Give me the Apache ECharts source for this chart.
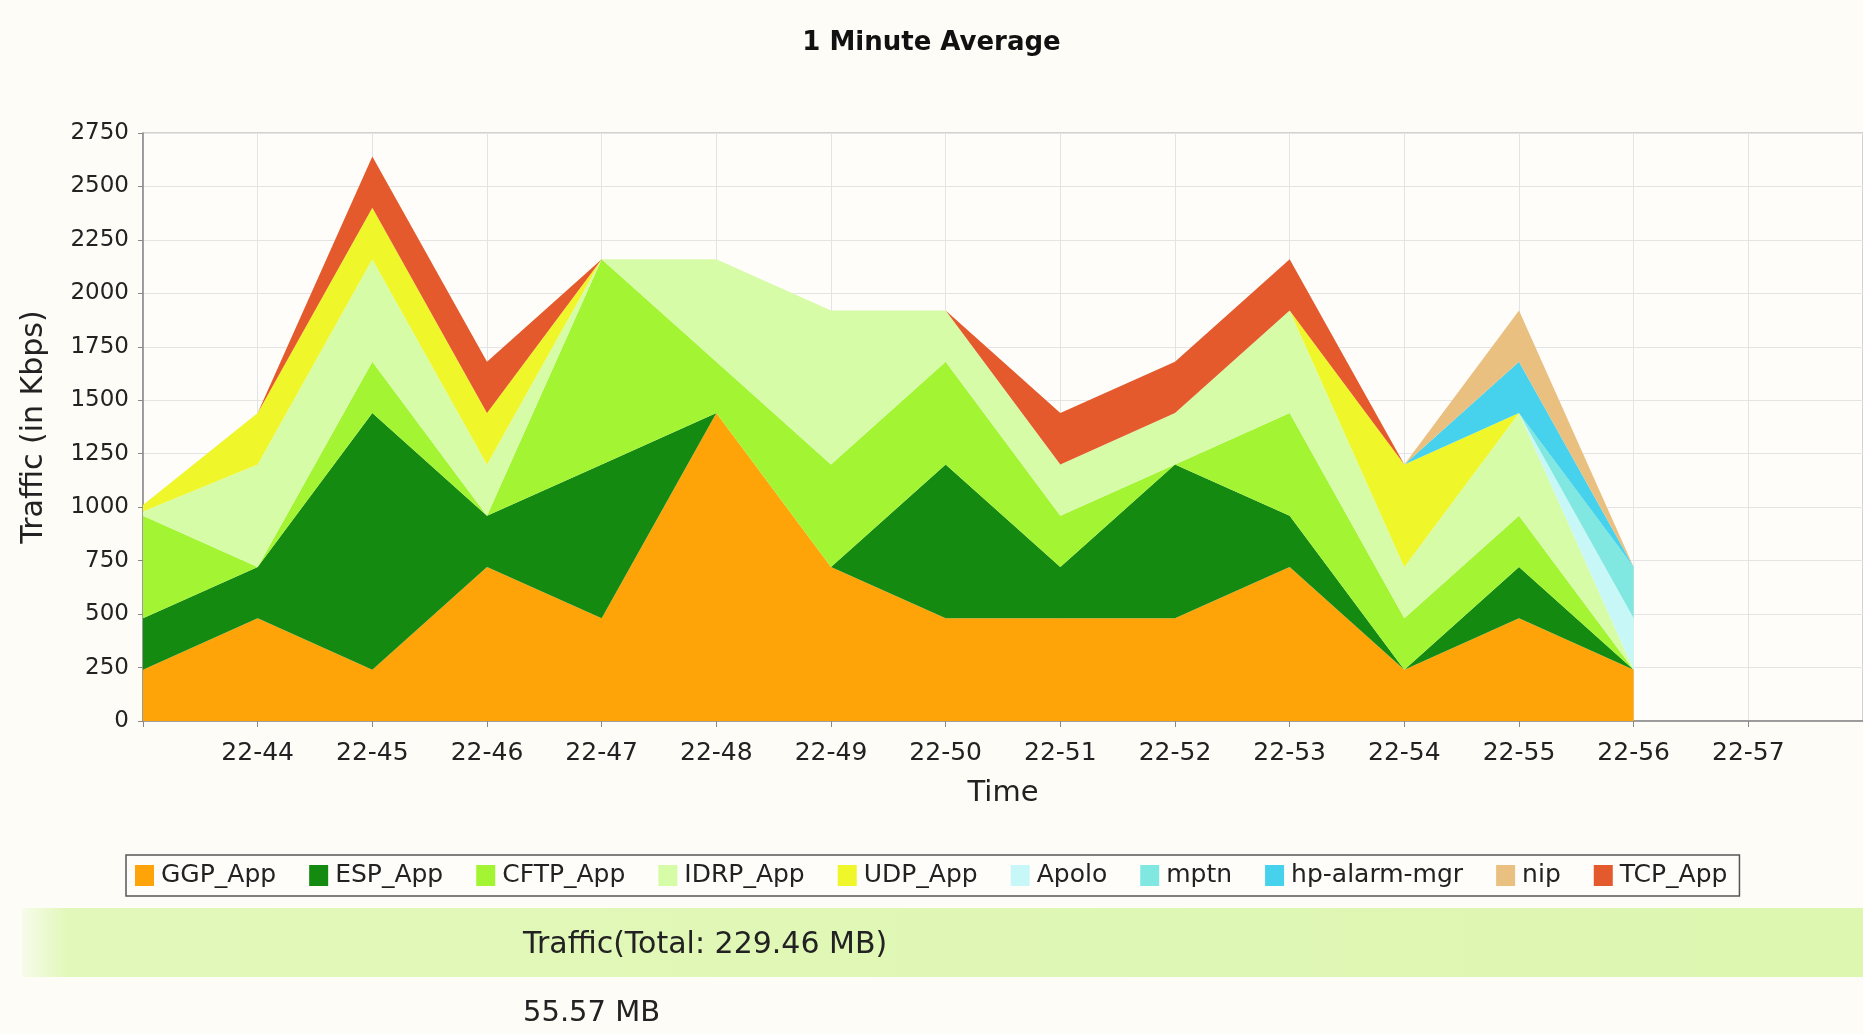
<!DOCTYPE html>
<html lang="en" style="height: 100%">

<head>
    <meta charset="utf-8">
    <script type="text/javascript" src="https://cdn.jsdelivr.net/npm/echarts@6/dist/echarts.min.js"></script>
</head>

<body style="height: 100%; margin: 0; background: #fdfcf7">
    <div id="container" style="width: 1863px; height: 1034px"></div>
    <script type="text/javascript">
        // time buckets on the x axis (first and last have no label)
        var categories = ['22-43', '22-44', '22-45', '22-46', '22-47', '22-48', '22-49', '22-50',
            '22-51', '22-52', '22-53', '22-54', '22-55', '22-56', '22-57', '22-58'];
        var yTicks = { min: 0, max: 2750, step: 250 };

        // per-application traffic in Kbps, stacked bottom to top
        var ggpApp = [240, 480, 240, 720, 480, 1440, 720, 480, 480, 480, 720, 240, 480, 240];
        var espApp = [240, 240, 1200, 240, 720, 0, 0, 720, 240, 720, 240, 0, 240, 0];
        var cftpApp = [480, 0, 240, 0, 960, 240, 480, 480, 240, 0, 480, 240, 240, 0];
        var idrpApp = [20, 480, 480, 240, 0, 480, 720, 240, 240, 240, 480, 240, 480, 0];
        var udpApp = [30, 240, 240, 240, 0, 0, 0, 0, 0, 0, 0, 480, 0, 0];
        var apolo = [0, 0, 0, 0, 0, 0, 0, 0, 0, 0, 0, 0, 0, 240];
        var mptn = [0, 0, 0, 0, 0, 0, 0, 0, 0, 0, 0, 0, 0, 240];
        var hpAlarmMgr = [0, 0, 0, 0, 0, 0, 0, 0, 0, 0, 0, 0, 240, 0];
        var nip = [0, 0, 0, 0, 0, 0, 0, 0, 0, 0, 0, 0, 240, 0];
        var tcpApp = [0, 0, 240, 240, 0, 0, 0, 0, 240, 240, 240, 0, 0, 0];

        var seriesNames = ['GGP_App', 'ESP_App', 'CFTP_App', 'IDRP_App', 'UDP_App', 'Apolo', 'mptn', 'hp-alarm-mgr', 'nip', 'TCP_App'];
        var seriesData = [ggpApp, espApp, cftpApp, idrpApp, udpApp, apolo, mptn, hpAlarmMgr, nip, tcpApp];
        var colors = ['#ffa408', '#148b10', '#a3f534', '#d7fca8', '#eff62a', '#c8f7f7', '#80e8e0', '#46d2ec', '#eac080', '#e45a2c'];

        var titleText = '1 Minute Average';
        var totalText = 'Traffic(Total: 229.46 MB)';
        var subText = '55.57 MB';

        var font = '"DejaVu Sans", sans-serif';
        var dom = document.getElementById('container');
        var chart = echarts.init(dom, null, { renderer: 'canvas' });

        var series = seriesNames.map(function (name, i) {
            return {
                name: name,
                type: 'line',
                stack: 'total',
                data: seriesData[i],
                symbol: 'none',
                lineStyle: { width: 0 },
                itemStyle: { color: colors[i] },
                areaStyle: { color: colors[i], opacity: 1 },
                emphasis: { disabled: true },
                animation: false
            };
        });

        var option = {
            backgroundColor: '#fdfcf7',
            animation: false,
            title: {
                text: titleText,
                left: 'center',
                top: 25,
                textStyle: { fontFamily: font, fontSize: 26, fontWeight: 'bold', color: '#111' }
            },
            grid: {
                left: 143,
                top: 133,
                right: 0,
                bottom: 313,
                show: true,
                backgroundColor: '#fefdfa',
                borderColor: '#a8a8a8',
                borderWidth: 1
            },
            legend: {
                left: 126,
                top: 855,
                orient: 'horizontal',
                icon: 'rect',
                itemWidth: 19,
                itemHeight: 21,
                itemGap: 33,
                padding: [8, 12, 8, 9],
                borderColor: '#555',
                borderWidth: 1.5,
                backgroundColor: '#fefdfa',
                textStyle: { fontFamily: font, fontSize: 25, color: '#222', padding: [0, 0, 0, 2] },
                data: seriesNames
            },
            xAxis: {
                type: 'category',
                data: categories,
                boundaryGap: false,
                name: 'Time',
                nameLocation: 'middle',
                nameGap: 58,
                nameTextStyle: { fontFamily: font, fontSize: 29, color: '#222' },
                axisLine: { lineStyle: { color: '#888', width: 1.5 } },
                axisTick: { show: true, interval: 0, length: 6, lineStyle: { color: '#888' } },
                axisLabel: {
                    interval: function (index) { return index > 0 && index < categories.length - 1; },
                    margin: 20,
                    fontFamily: font,
                    fontSize: 25,
                    color: '#222'
                },
                splitLine: { show: true, interval: 0, lineStyle: { color: '#e4e4e4', width: 1 } }
            },
            yAxis: {
                type: 'value',
                min: yTicks.min,
                max: yTicks.max,
                interval: yTicks.step,
                name: 'Traffic (in Kbps)',
                nameLocation: 'middle',
                nameGap: 94,
                nameTextStyle: { fontFamily: font, fontSize: 30, color: '#222' },
                axisLine: { show: true, lineStyle: { color: '#888', width: 1.5 } },
                axisTick: { show: true, length: 5, lineStyle: { color: '#888' } },
                axisLabel: {
                    margin: 14,
                    fontFamily: font,
                    fontSize: 23,
                    color: '#222',
                    formatter: function (v) { return String(v); }
                },
                splitLine: { show: true, lineStyle: { color: '#e4e4e4', width: 1 } }
            },
            graphic: [
                {
                    type: 'rect',
                    z: -1,
                    shape: { x: 22, y: 908, width: 1841, height: 69 },
                    style: {
                        fill: new echarts.graphic.LinearGradient(0, 0, 1, 0, [
                            { offset: 0, color: 'rgba(224,248,184,0.2)' },
                            { offset: 0.025, color: '#e2f8ba' },
                            { offset: 1, color: '#ddf6b0' }
                        ])
                    }
                },
                {
                    type: 'text',
                    x: 523,
                    y: 945,
                    style: { text: totalText, fontFamily: font, fontSize: 30, fill: '#222', verticalAlign: 'middle' }
                },
                {
                    type: 'text',
                    x: 523,
                    y: 1013,
                    style: { text: subText, fontFamily: font, fontSize: 29, fill: '#222', verticalAlign: 'middle' }
                }
            ],
            series: series
        };
        chart.setOption(option);
    </script>
</body>

</html>
